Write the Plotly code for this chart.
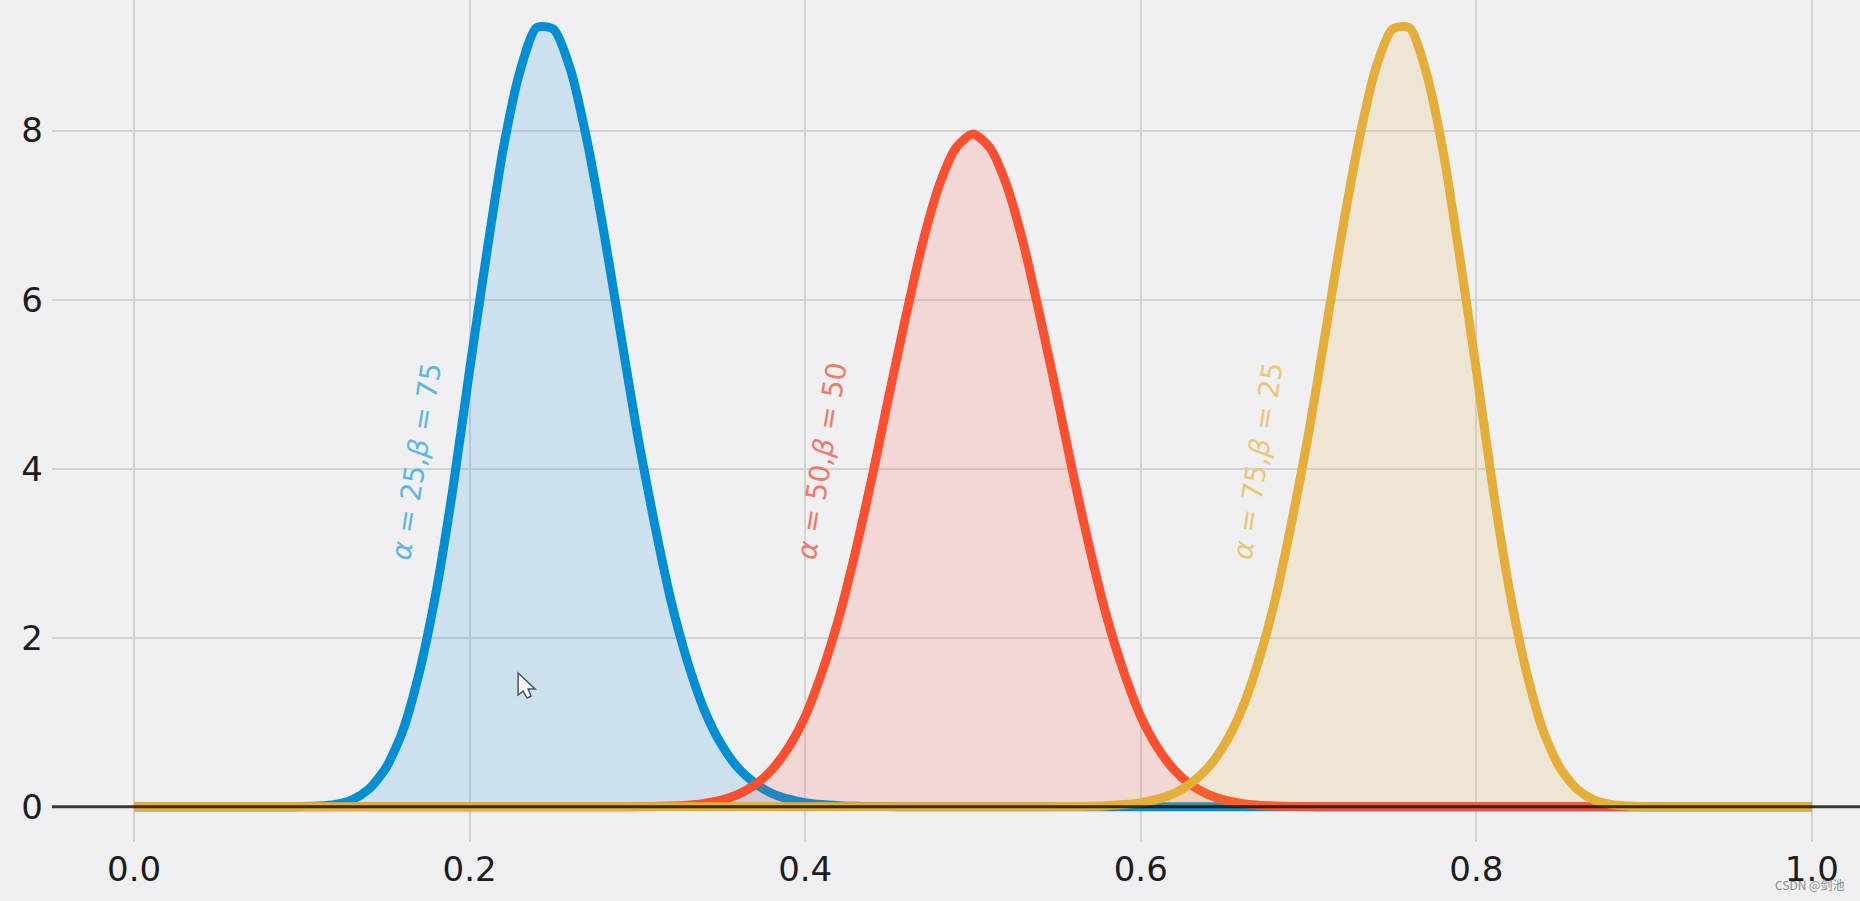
import plotly.graph_objects as go

x_values = [i / 100 for i in range(101)]
blue_values = [0] * 10 + [0.002, 0.008, 0.028, 0.082, 0.21, 0.456, 0.89, 1.59, 2.54, 3.76, 5.17, 6.52, 7.78, 8.7, 9.22, 9.2,
                          8.73, 7.88, 6.8, 5.6, 4.41, 3.37, 2.44, 1.71, 1.14, 0.74, 0.46, 0.28, 0.16, 0.09, 0.049, 0.026,
                          0.013, 0.006, 0.003, 0.002, 0.001] + [0] * 54
red_values = [0] * 30 + [0.002, 0.004, 0.009, 0.019, 0.04, 0.078, 0.146, 0.258, 0.435, 0.70, 1.07, 1.59, 2.23, 3.02, 3.91,
                         4.87, 5.8, 6.67, 7.36, 7.8, 7.96, 7.8, 7.36, 6.67, 5.8, 4.87, 3.91, 3.02, 2.23, 1.59, 1.07, 0.70,
                         0.435, 0.258, 0.146, 0.078, 0.04, 0.019, 0.009, 0.004, 0.002] + [0] * 30
yellow_values = [0] * 54 + [0.001, 0.002, 0.003, 0.006, 0.013, 0.026, 0.049, 0.09, 0.16, 0.28, 0.46, 0.74, 1.14, 1.71, 2.44,
                            3.37, 4.41, 5.6, 6.8, 7.88, 8.73, 9.2, 9.22, 8.7, 7.78, 6.52, 5.17, 3.76, 2.54, 1.59, 0.89, 0.456,
                            0.21, 0.082, 0.028, 0.008, 0.002] + [0] * 10
x_ticks = [0.0, 0.2, 0.4, 0.6, 0.8, 1.0]
x_tick_labels = ["0.0", "0.2", "0.4", "0.6", "0.8", "1.0"]
y_ticks = [0, 2, 4, 6, 8]
labels = ["<i>α</i> = 25,<i>β</i> = 75", "<i>α</i> = 50,<i>β</i> = 50", "<i>α</i> = 75,<i>β</i> = 25"]
label_x = [0.168, 0.4096, 0.6695]
label_y = [4.09, 4.09, 4.09]

colors = ["#008fd5", "#fc4f30", "#e5ae38"]
fills = ["rgba(0,143,213,0.15)", "rgba(252,79,48,0.15)", "rgba(229,174,56,0.15)"]
label_colors = ["#5fb6e3", "#f0796a", "#e9c878"]
BG = "#f0eff1"

fig = go.Figure()
for ys, c, f in zip([blue_values, red_values, yellow_values], colors, fills):
    fig.add_trace(go.Scatter(x=x_values, y=ys, mode="lines",
                             line=dict(color=c, width=9, shape="spline", smoothing=0.7),
                             fill="tozeroy", fillcolor=f, hoverinfo="skip", showlegend=False))

fig.add_shape(type="line", xref="paper", x0=0, x1=1, yref="y", y0=0, y1=0,
              line=dict(color="rgba(20,12,0,0.8)", width=3), layer="above")

# screen-capture mouse pointer visible in the reference
fig.add_shape(type="path", xref="x", yref="y", xsizemode="pixel", ysizemode="pixel",
              xanchor=0.2289, yanchor=1.582,
              path="M0 0 L0 -22 L5 -18 L9 -25 L13 -23 L10 -16 L17 -16 Z",
              fillcolor="#f4f6f8", line=dict(color="#4a5560", width=1.5), layer="above")

for t, lx, ly, c in zip(labels, label_x, label_y, label_colors):
    fig.add_annotation(x=lx, y=ly, text=t, textangle=-81, showarrow=False,
                       xanchor="center", yanchor="middle",
                       font=dict(family="DejaVu Sans", size=28, color=c))

fig.add_annotation(xref="paper", yref="paper", x=1, y=0, xanchor="right", yanchor="bottom",
                   xshift=-14, yshift=-53, text="CSDN @剑池", showarrow=False,
                   font=dict(family="Noto Sans CJK SC", size=12, color="#8a8a8c"))

fig.update_layout(
    width=1860, height=901,
    margin=dict(l=52, r=0, t=0, b=59, pad=0),
    paper_bgcolor=BG, plot_bgcolor=BG,
    font=dict(family="DejaVu Sans", color="#1c1c1c", size=34),
    showlegend=False,
    xaxis=dict(range=[-0.0489, 1.0287], tickvals=x_ticks, ticktext=x_tick_labels,
               showgrid=True, gridcolor="#d3d3d6", gridwidth=2, zeroline=False, showline=False,
               ticks="", ticklabelstandoff=4),
    yaxis=dict(range=[-0.417, 9.545], tickvals=y_ticks,
               showgrid=True, gridcolor="#d3d3d6", gridwidth=2, zeroline=False, showline=False,
               ticks="", ticklabelstandoff=8),
)
fig.write_html("out.html", config={"displayModeBar": False},
               post_script="document.body.style.margin='0';document.body.style.background='#f0eff1';")
